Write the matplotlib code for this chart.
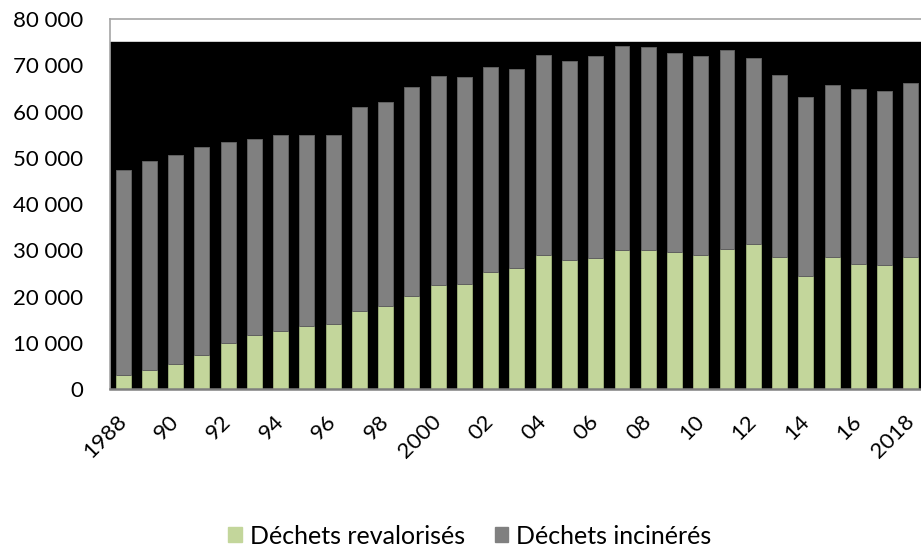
import numpy as np
import matplotlib.pyplot as plt
from matplotlib.patches import Patch

# données (tonnes)
annees = list(range(1988, 2019))
revalorises = [3100, 4200, 5500, 7400, 9900, 11600, 12600, 13700, 14100, 16900,
               18000, 20200, 22400, 22600, 25300, 26200, 29000, 27900, 28400, 30100,
               30100, 29700, 29000, 30300, 31300, 28600, 24500, 28500, 27000, 26800, 28500]
totaux = [47300, 49300, 50700, 52400, 53400, 54000, 54850, 54900, 55000, 60900,
          62100, 65400, 67600, 67500, 69600, 69200, 72300, 71000, 71900, 74100,
          73900, 72600, 71900, 73200, 71500, 67900, 63100, 65700, 64800, 64400, 66100]
incineres = [t - r for t, r in zip(totaux, revalorises)]
etiquettes = [str(a) if a in (1988, 2000, 2018) else str(a)[2:] for a in annees]

vert = "#C3D69B"
gris = "#808080"

plt.rcParams["font.family"] = ["Lato", "DejaVu Sans"]

fig = plt.figure(figsize=(9.21, 5.51), dpi=100)
ax = fig.add_axes([0.1194, 0.294, 0.8838, 0.6715])

x = np.arange(len(annees))
ax.axhspan(0, 75000, color="black", zorder=0)
ax.bar(x, revalorises, width=0.57, color=vert, edgecolor="#9aab78", linewidth=0.7, zorder=2)
ax.bar(x, incineres, bottom=revalorises, width=0.57, color=gris, edgecolor="#5f5f5f",
       linewidth=0.7, zorder=2)

ax.set_xlim(-0.5, len(annees) - 0.5)
ax.set_ylim(0, 80000)
ax.set_yticks(range(0, 80001, 10000))
ax.set_yticklabels([f"{v:,}".replace(",", " ") for v in range(0, 80001, 10000)], fontsize=16)
ax.tick_params(axis="y", length=0, pad=19.5)

ax.set_xticks(x[::2])
ax.set_xticklabels(etiquettes[::2], rotation=45, ha="right", va="center",
                   rotation_mode="anchor", fontsize=16)
ax.tick_params(axis="x", length=0, pad=21)

for s in ["top", "left", "right"]:
    ax.spines[s].set_color("#a6a6a6")
    ax.spines[s].set_linewidth(1.2)
ax.spines["bottom"].set_color("#7f7f7f")
ax.spines["bottom"].set_linewidth(1.8)

handles = [Patch(color=vert, label="Déchets revalorisés"),
           Patch(color=gris, label="Déchets incinérés")]
fig.legend(handles=handles, loc="center", bbox_to_anchor=(0.51, 0.027), ncol=2,
           frameon=False, fontsize=18, handlelength=0.55, handleheight=0.55,
           handletextpad=0.3, columnspacing=1.2)

fig.savefig("out.png", dpi=100)
